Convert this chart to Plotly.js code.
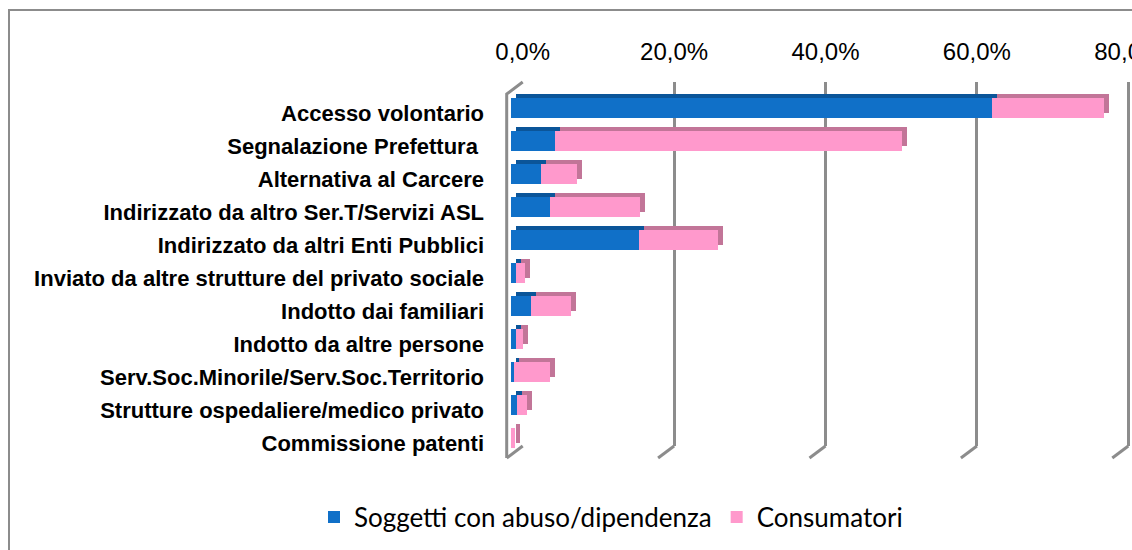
<!DOCTYPE html>
<html>
<head>
<meta charset="utf-8">
<script src="https://cdn.plot.ly/plotly-3.0.1.min.js"></script>
<style>
  body { margin: 0; background: #fff; }
  #chart { width: 1132px; height: 550px; }
</style>
</head>
<body>
<div id="chart"></div>
<script>
// categories, top to bottom
var categorie = [
  "Accesso volontario",
  "Segnalazione Prefettura ",
  "Alternativa al Carcere",
  "Indirizzato da altro Ser.T/Servizi ASL",
  "Indirizzato da altri Enti Pubblici",
  "Inviato da altre strutture del privato sociale",
  "Indotto dai familiari",
  "Indotto da altre persone",
  "Serv.Soc.Minorile/Serv.Soc.Territorio",
  "Strutture ospedaliere/medico privato",
  "Commissione patenti"
];
// percentages
var soggetti = [63.6, 5.8, 3.9, 5.1, 16.9, 0.6, 2.7, 0.6, 0.4, 0.8, 0.0];
var consumatori = [14.8, 45.8, 4.8, 11.9, 10.4, 1.3, 5.2, 1.0, 4.7, 1.3, 0.5];
var nomiSerie = ["Soggetti con abuso/dipendenza", "Consumatori"];
var tickValori = [0, 20, 40, 60, 80];
var tickTesti = tickValori.map(function (v) { return v.toFixed(1).replace(".", ",") + "%"; });

var W = 1132, H = 550;
var PXPCT = 7.57;   // pixels for 1%
function fx(p) { return p / W; }
function fy(p) { return 1 - p / H; }

// pseudo 3D: back wall, bar tops, bar fronts
var wallX0 = 522.7, wallTop = 82, wallBot = 446;
var depthX = -16, depthY = 12;
var frontX0 = 511, frontTop = 91.5, frontBot = 454.5;
var topDX = 5, topDY = -4.5;

var blu = "#1070c8", bluScuro = "#0b5599";
var rosa = "#ff99cc", rosaScuro = "#c27598";
var grigio = "#8c8c8c";

function bar(vals, name, color, xa, ya, legend) {
  return {
    type: "bar", orientation: "h",
    x: vals, y: categorie, name: name,
    xaxis: xa, yaxis: ya,
    width: 0.59,
    marker: { color: color, line: { width: 0 } },
    showlegend: legend,
    hoverinfo: legend ? "x+name" : "skip"
  };
}

var data = [
  // empty trace so the back wall subplot (gridlines + ticks) gets drawn
  { type: "scatter", mode: "markers", x: [], y: [], xaxis: "x", yaxis: "y",
    showlegend: false, hoverinfo: "skip" },
  bar(soggetti, nomiSerie[0], bluScuro, "x2", "y2", false),
  bar(consumatori, nomiSerie[1], rosaScuro, "x2", "y2", false),
  bar(soggetti, nomiSerie[0], blu, "x3", "y3", true),
  bar(consumatori, nomiSerie[1], rosa, "x3", "y3", true)
];

var catAxis = {
  type: "category", categoryorder: "array", categoryarray: categorie,
  range: [10.5, -0.5], showgrid: false, zeroline: false, showline: false
};

// floor edges of the gridlines, and the left wall front edge
var shapes = [];
tickValori.forEach(function (v) {
  var xb = wallX0 + v * PXPCT;
  shapes.push({ type: "line", xref: "paper", yref: "paper",
    x0: fx(xb), y0: fy(wallBot), x1: fx(xb + depthX), y1: fy(wallBot + depthY),
    line: { color: grigio, width: 3 } });
});
var fxl = fx(wallX0 + depthX);
shapes.push({ type: "path", xref: "paper", yref: "paper",
  path: "M" + fx(wallX0) + "," + fy(wallTop) +
        " L" + fxl + "," + fy(wallTop + depthY) +
        " L" + fxl + "," + fy(wallBot + depthY),
  line: { color: grigio, width: 3 } });
// chart frame
shapes.push({ type: "rect", xref: "paper", yref: "paper",
  x0: fx(9), y0: fy(10), x1: 1.05, y1: -0.05,
  line: { color: grigio, width: 2 }, layer: "below" });

var layout = {
  width: W, height: H,
  margin: { l: 0, r: 0, t: 0, b: 0 },
  paper_bgcolor: "#fff", plot_bgcolor: "rgba(0,0,0,0)",
  barmode: "stack",
  font: { family: "Liberation Sans Narrow, Arial Narrow, sans-serif", color: "#000" },
  xaxis: {
    domain: [fx(wallX0), 1], range: [0, (W - wallX0) / PXPCT],
    anchor: "y", side: "top",
    tickmode: "array", tickvals: tickValori, ticktext: tickTesti,
    ticks: "", ticklabelstandoff: 16, ticklabeloverflow: "allow",
    showgrid: true, gridcolor: grigio, gridwidth: 3,
    zeroline: false, showline: false,
    tickfont: { size: 24, family: "Liberation Sans Narrow, sans-serif" }
  },
  yaxis: { domain: [fy(wallBot), fy(wallTop)], anchor: "x",
    range: [0, 1], showgrid: false, zeroline: false, showline: false,
    showticklabels: false, ticks: "" },
  xaxis2: { domain: [fx(frontX0 + topDX), 1], range: [0, (W - frontX0 - topDX) / PXPCT],
    anchor: "y2", visible: false },
  yaxis2: Object.assign({}, catAxis, { domain: [fy(frontBot + topDY), fy(frontTop + topDY)],
    anchor: "x2", visible: false }),
  xaxis3: { domain: [fx(frontX0), 1], range: [0, (W - frontX0) / PXPCT],
    anchor: "y3", visible: false },
  yaxis3: Object.assign({}, catAxis, { domain: [fy(frontBot), fy(frontTop)],
    anchor: "x3", ticks: "", ticklabelstandoff: 26, ticklabelshift: -5,
    tickfont: { size: 22, family: "Liberation Sans Narrow, sans-serif", weight: "bold" } }),
  showlegend: true,
  legend: {
    orientation: "h", traceorder: "normal",
    x: fx(611), y: fy(517), xanchor: "center", yanchor: "middle",
    font: { family: "Lato, sans-serif", size: 26, color: "#000" },
    itemclick: false, itemdoubleclick: false
  },
  shapes: shapes
};

Plotly.newPlot("chart", data, layout, { displayModeBar: false, staticPlot: true });
</script>
</body>
</html>
